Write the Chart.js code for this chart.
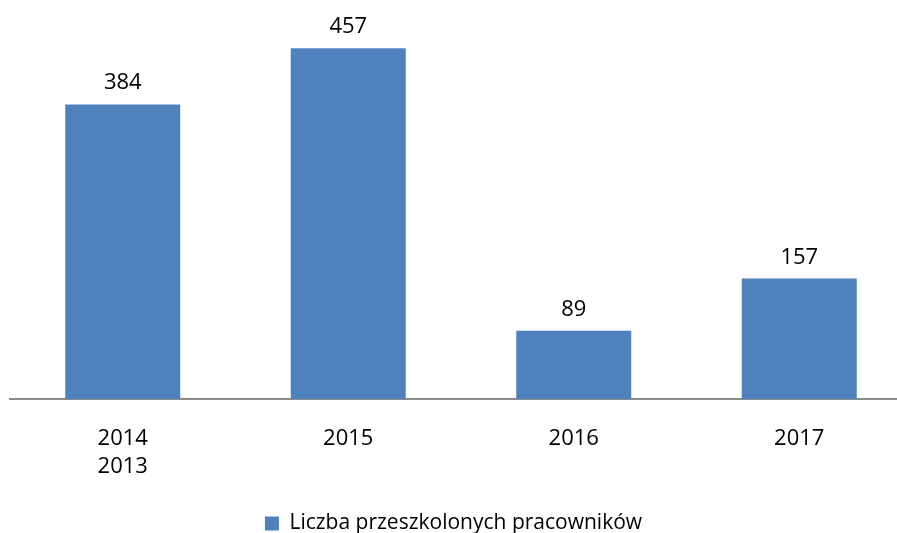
<!DOCTYPE html>
<html>
<head>
<meta charset="utf-8">
<script src="https://cdn.jsdelivr.net/npm/chart.js@4"></script>
<style>
  html, body { margin: 0; padding: 0; background: #fff; overflow: hidden; }
  #wrap { width: 897px; height: 533px; }
</style>
</head>
<body>
<div id="wrap"><canvas id="chart"></canvas></div>
<script>
const categories = [["2014", "2013"], "2015", "2016", "2017"];
const values = [384, 457, 89, 157];
const seriesName = "Liczba przeszkolonych pracowników";

const font = "'Open Sans', sans-serif";

// value labels above the bars
const barLabels = {
    id: "barLabels",
    afterDatasetsDraw(chart) {
        const ctx = chart.ctx;
        const meta = chart.getDatasetMeta(0);
        ctx.save();
        ctx.font = "22px " + font;
        ctx.fillStyle = "#000";
        ctx.textAlign = "center";
        ctx.textBaseline = "alphabetic";
        meta.data.forEach((bar, i) => {
            ctx.fillText(String(values[i]), bar.x, bar.y - 15);
        });
        ctx.restore();
    }
};

const points = values.map((v, i) => ({ x: i, y: v }));

new Chart(document.getElementById("chart"), {
    type: "bar",
    data: {
        datasets: [
            {
                label: seriesName,
                data: points,
                backgroundColor: "#4F81BD",
                borderWidth: 0,
                barPercentage: 0.51,
                categoryPercentage: 1,
            },
        ],
    },
    options: {
        responsive: true,
        maintainAspectRatio: false,
        animation: false,
        layout: { padding: { left: 10, right: 0, top: 10, bottom: -11 } },
        scales: {
            x: {
                type: "linear",
                offset: false,
                min: -0.5,
                max: 3.4335,
                grid: { display: false, drawTicks: false },
                border: { display: true, color: "#8C8C8C", width: 2 },
                ticks: {
                    stepSize: 1,
                    includeBounds: false,
                    autoSkip: false,
                    maxRotation: 0,
                    padding: 26,
                    color: "#000",
                    font: { family: font, size: 22, lineHeight: 1.27 },
                    callback: (v) => (Number.isInteger(v) && v >= 0 && v < categories.length ? categories[v] : null),
                },
            },
            y: {
                display: false,
                min: 0,
                max: 507,
            },
        },
        plugins: {
            legend: {
                position: "bottom",
                labels: {
                    boxWidth: 14,
                    boxHeight: 14,
                    color: "#000",
                    padding: 6,
                    font: { family: font, size: 21 },
                },
            },
            tooltip: { enabled: false },
        },
    },
    plugins: [barLabels],
});
</script>
</body>
</html>
